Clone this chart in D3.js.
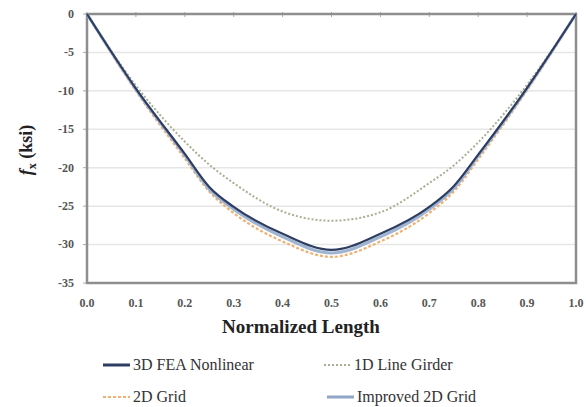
<!DOCTYPE html>
<html><head><meta charset="utf-8">
<script src="https://cdn.jsdelivr.net/npm/d3@7"></script>
<style>body{margin:0;background:#fff}svg{display:block}
.tx{font-family:"Liberation Serif" !important;}</style>
</head><body>
<script>
const xs = [0, 0.1, 0.2, 0.25, 0.3, 0.4, 0.5, 0.6, 0.7, 0.75, 0.8, 0.9, 1.0];
const fea3d      = [0, -9.7, -18.2, -22.5, -25.1, -28.6, -30.7, -28.6, -25.1, -22.4, -18.3, -9.6, 0];
const lineGirder = [0, -9.3, -16.6, -19.6, -22.0, -25.7, -26.9, -25.8, -22.0, -19.7, -16.7, -9.2, 0];
const grid2d     = [0, -10.0, -18.8, -23.1, -25.9, -29.6, -31.6, -29.6, -25.9, -23.1, -18.9, -9.9, 0];
const improved2d = [0, -9.8, -18.4, -22.8, -25.4, -29.0, -31.1, -29.0, -25.4, -22.7, -18.5, -9.7, 0];
const xTicks = [0, 0.1, 0.2, 0.3, 0.4, 0.5, 0.6, 0.7, 0.8, 0.9, 1.0];
const yTicks = [0, -5, -10, -15, -20, -25, -30, -35];
const seriesNames = ["3D FEA Nonlinear", "1D Line Girder", "2D Grid", "Improved 2D Grid"];

const W = 586, H = 407;
const FONT = '"Liberation Serif"';
const svg = d3.select("body").append("svg").attr("width", W).attr("height", H);
const x = d3.scaleLinear().domain([0, 1]).range([87, 576]);
const y = d3.scaleLinear().domain([0, -35]).range([14, 283]);

// gridlines
svg.append("g").selectAll("line").data(yTicks.slice(1, -1)).join("line")
  .attr("x1", x(0)).attr("x2", x(1)).attr("y1", d => y(d)).attr("y2", d => y(d))
  .attr("stroke", "#e6e6e6").attr("stroke-width", 1.5);

// y axis tick marks via scale
const gy = svg.append("g");
gy.selectAll("line").data(yTicks).join("line")
  .attr("x1", x(0) - 4).attr("x2", x(0)).attr("y1", d => y(d)).attr("y2", d => y(d)).attr("stroke", "#aaa");
gy.selectAll("text").data(yTicks).join("text").attr("class", "tx")
  .attr("x", x(0) - 13).attr("y", d => y(d)).attr("dy", "0.32em").attr("text-anchor", "end")
  .style("font-family", FONT).attr("font-size", 12).attr("font-weight", "bold").attr("fill", "#555")
  .text(d => String(d));

// x axis ticks at top (axis crosses at 0)
const gxt = svg.append("g");
gxt.selectAll("line").data(xTicks).join("line")
  .attr("x1", d => x(d)).attr("x2", d => x(d)).attr("y1", y(0) - 2).attr("y2", y(0) + 3).attr("stroke", "#aaa");

// x tick labels at bottom
const fmt = d3.format(".1f");
svg.append("g").selectAll("text").data(xTicks).join("text").attr("class", "tx")
  .attr("x", d => x(d)).attr("y", y(-35) + 15).attr("dy", "0.71em").attr("text-anchor", "middle")
  .style("font-family", FONT).attr("font-size", 12).attr("font-weight", "bold").attr("fill", "#555")
  .text(d => fmt(d));

// frame
svg.append("rect").attr("x", x(0)).attr("y", y(0)).attr("width", x(1) - x(0)).attr("height", y(-35) - y(0))
  .attr("fill", "none").attr("stroke", "#8e8e8e").attr("stroke-width", 2.5);

// lines
const line = d3.line().x((d, i) => x(xs[i])).y(d => y(d)).curve(d3.curveMonotoneX);
const styles = [
  {data: lineGirder, color: "#a9ae94", width: 2, dash: "2,2"},
  {data: grid2d, color: "#f2b070", width: 2.2, dash: "3,2"},
  {data: improved2d, color: "#9fb4d0", width: 3, dash: null},
  {data: fea3d, color: "#2e3d62", width: 2.2, dash: null}
];
styles.forEach(s => {
  svg.append("path").attr("d", line(s.data)).attr("fill", "none").attr("stroke", s.color)
    .attr("stroke-width", s.width).attr("stroke-dasharray", s.dash).attr("stroke-linejoin", "round");
});

// axis titles
svg.append("text").attr("class", "tx").attr("x", 301).attr("y", 333).attr("text-anchor", "middle").style("font-family", FONT)
  .attr("font-size", 19).attr("font-weight", "bold").attr("fill", "#222")
  .text("Normalized Length");
const yt = svg.append("text").attr("class", "tx").attr("transform", "translate(32,150) rotate(-90)").attr("text-anchor", "middle")
  .style("font-family", FONT).attr("font-size", 18).attr("font-weight", "bold").attr("fill", "#222");
yt.append("tspan").attr("font-style", "italic").text("f");
yt.append("tspan").attr("font-size", 12).attr("dy", 4).text("x");
yt.append("tspan").attr("dy", -4).text(" (ksi)");

// legend
const legend = [
  {name: seriesNames[0], color: "#2e3d62", dash: null, width: 3, lx: 103, ly: 365},
  {name: seriesNames[1], color: "#a9ae94", dash: "2,2", width: 2, lx: 324, ly: 365},
  {name: seriesNames[2], color: "#f2b070", dash: "3,2", width: 2.2, lx: 103, ly: 397},
  {name: seriesNames[3], color: "#8fa6c6", dash: null, width: 3, lx: 327, ly: 397}
];
const lg = svg.append("g").selectAll("g").data(legend).join("g");
lg.append("line").attr("x1", d => d.lx).attr("x2", d => d.lx + 27).attr("y1", d => d.ly).attr("y2", d => d.ly)
  .attr("stroke", d => d.color).attr("stroke-width", d => d.width).attr("stroke-dasharray", d => d.dash);
lg.append("text").attr("class", "tx").attr("x", d => d.lx + 30).attr("y", d => d.ly + 5).style("font-family", FONT)
  .attr("font-size", 16).attr("fill", "#333").text(d => d.name);
</script>
</body></html>
